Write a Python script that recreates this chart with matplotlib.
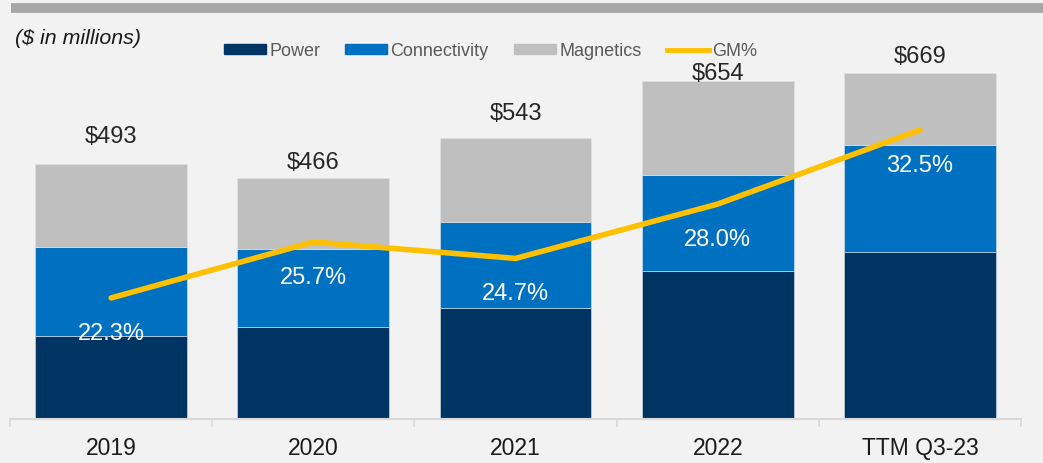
import matplotlib.pyplot as plt
from matplotlib.patches import Patch
from matplotlib.lines import Line2D

categories = ["2019", "2020", "2021", "2022", "TTM Q3-23"]
power = [160, 178, 215, 286, 323]
connectivity = [173, 151, 166, 186, 207]
magnetics = [160, 137, 162, 182, 139]
totals = [493, 466, 543, 654, 669]
gm_pct = [22.3, 25.7, 24.7, 28.0, 32.5]

# gap between bar top and total label baseline (points)
total_offsets = [15, 6.5, 13, 0.8, 7]

c_power = "#003462"
c_conn = "#0070c0"
c_mag = "#bfbfbf"
c_gm = "#ffc000"
bg = "#f2f2f2"

plt.rcParams["font.family"] = ["Liberation Sans", "DejaVu Sans"]

fig = plt.figure(figsize=(10.43, 4.63), dpi=100, facecolor=bg)
ax = fig.add_axes([10 / 1043, 44 / 463, 1011 / 1043, 399 / 463])
ax.set_facecolor(bg)

x = list(range(len(categories)))
w = 0.75
edge = dict(edgecolor="#dfe6ec", linewidth=0.4)
ax.bar(x, power, w, color=c_power, **edge)
ax.bar(x, connectivity, w, bottom=power, color=c_conn, **edge)
b3 = [p + c for p, c in zip(power, connectivity)]
ax.bar(x, magnetics, w, bottom=b3, color=c_mag, **edge)

for i, t in enumerate(totals):
    ax.annotate(f"${t}", (i, t), xytext=(0, total_offsets[i]), textcoords="offset points",
                ha="center", va="baseline", fontsize=17, color="#262626")

ax.set_xlim(-0.5, len(categories) - 0.5)
ax.set_ylim(0, 399 / 0.517)

for s in ["top", "left", "right"]:
    ax.spines[s].set_visible(False)
ax.spines["bottom"].set_color("#d9d9d9")
ax.spines["bottom"].set_linewidth(1.5)
ax.set_yticks([])
ax.set_xticks(x)
ax.set_xticklabels(categories, fontsize=16.5, color="#1a1a1a")
ax.tick_params(axis="x", which="major", length=0, pad=13)
ax.set_xticks([i - 0.5 for i in range(len(categories) + 1)], minor=True)
ax.tick_params(axis="x", which="minor", length=6, color="#d9d9d9", width=1.2)

ax2 = ax.twinx()
ax2.plot(x, gm_pct, color=c_gm, linewidth=4, solid_capstyle="round", solid_joinstyle="round")
ax2.set_ylim(14.95, 14.95 + 399 / 16.47)
ax2.axis("off")
for i, g in enumerate(gm_pct):
    ax2.annotate(f"{g:.1f}%", (i, g), xytext=(0, -30), textcoords="offset points",
                 ha="center", va="baseline", fontsize=17, color="white")

# top grey rule
fig.add_artist(Line2D([11 / 1043, 1], [1 - 7.5 / 463, 1 - 7.5 / 463], color="#a6a6a6",
                      linewidth=7, solid_capstyle="butt"))

fig.text(15 / 1043, 1 - 39 / 463, "($ in millions)", style="italic", fontsize=15.4,
         color="#1a1a1a", va="center", ha="left")

handles = [Patch(color=c_power), Patch(color=c_conn), Patch(color=c_mag),
           Line2D([0], [0], color=c_gm, linewidth=3.5)]
labels = ["Power", "Connectivity", "Magnetics", "GM%"]
leg = fig.legend(handles, labels, loc="center left", bbox_to_anchor=(224 / 1043, 1 - 51 / 463),
                 ncol=4, frameon=False, fontsize=13, handlelength=2.33, handleheight=0.45,
                 handletextpad=0.17, columnspacing=1.4, borderpad=0, borderaxespad=0)
for t in leg.get_texts():
    t.set_color("#595959")

fig.savefig("out.png", dpi=100, facecolor=bg)
